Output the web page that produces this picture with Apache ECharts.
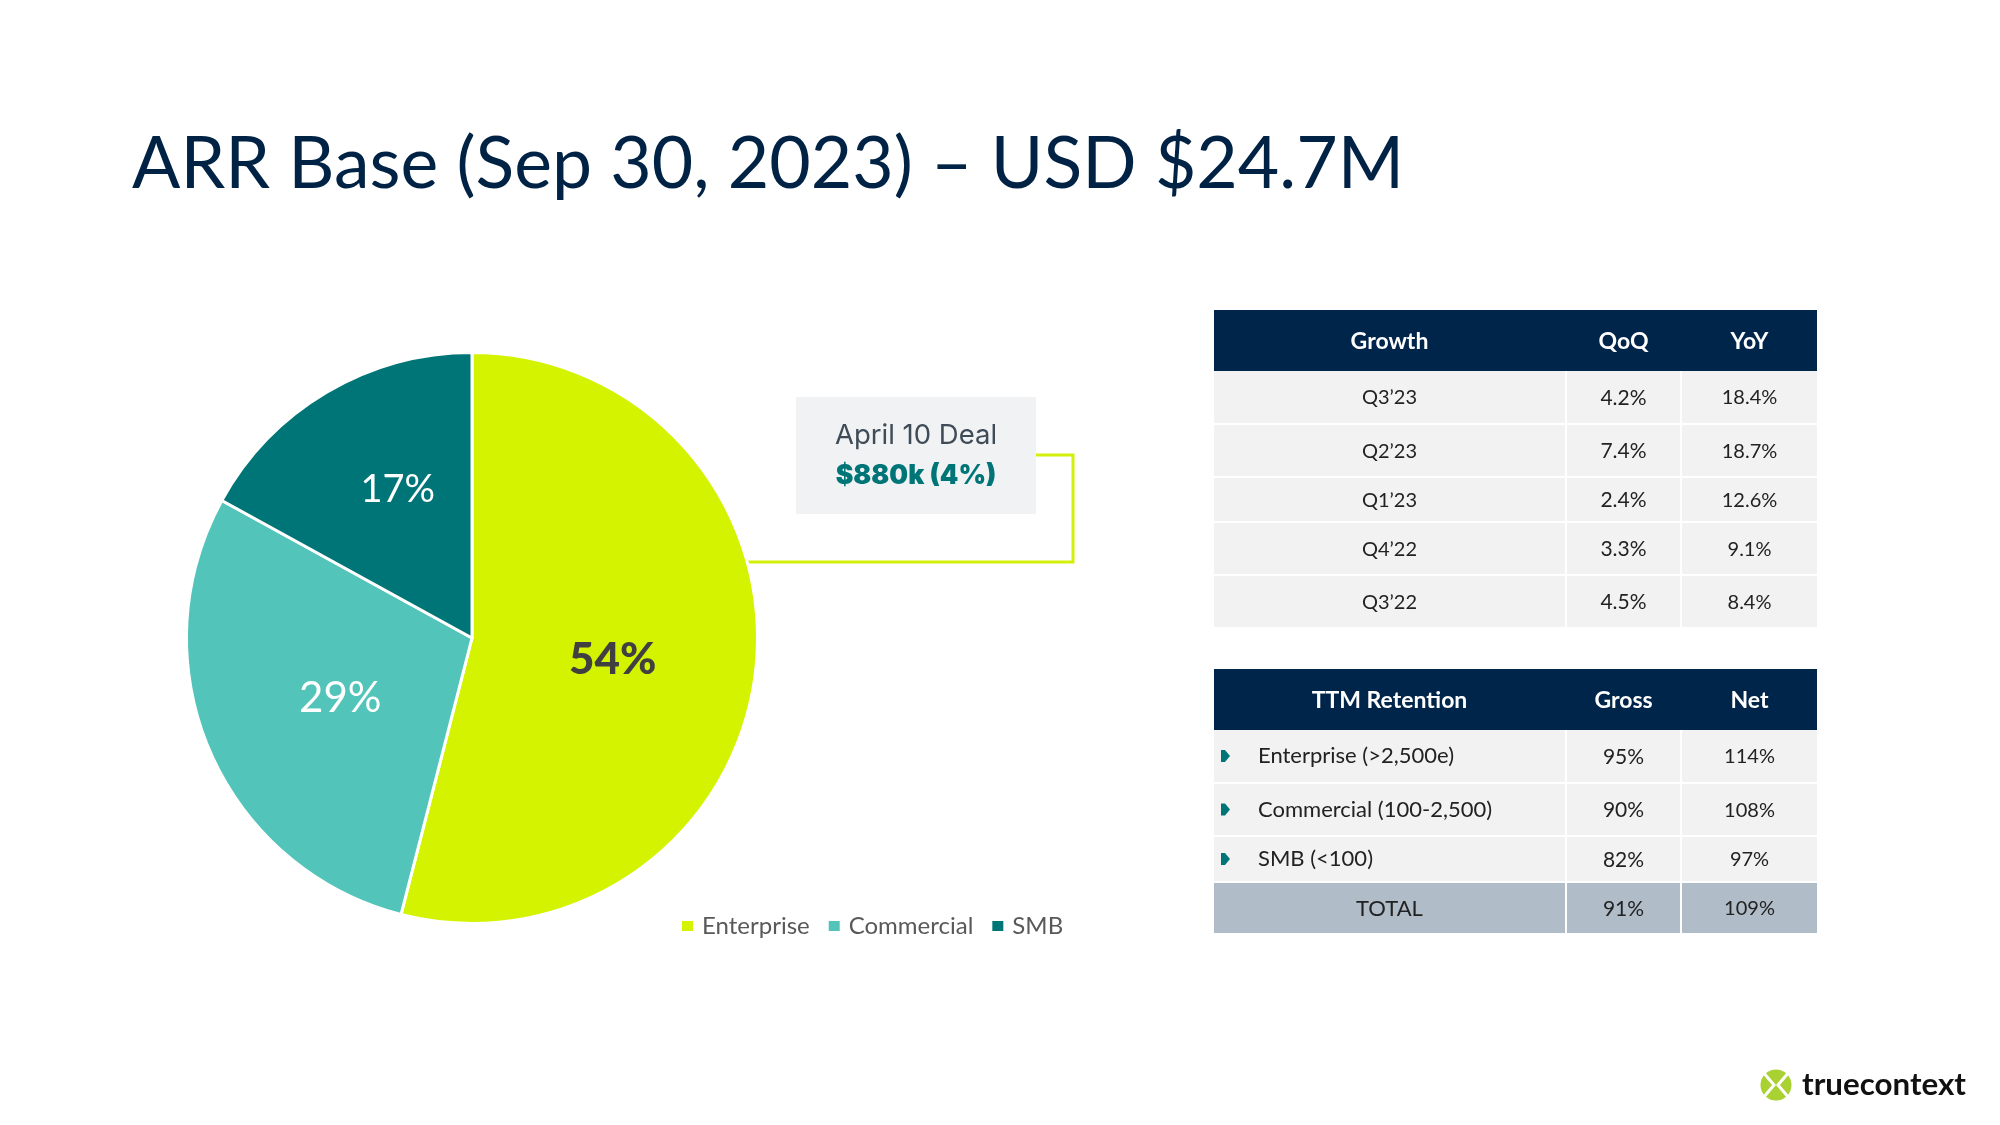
<!DOCTYPE html>
<html lang="en">
<head>
<meta charset="utf-8" />
<style>
    html, body { margin: 0; padding: 0; background: #fff; overflow: hidden; }
    .box { width: 2000px; height: 1125px; }
</style>
</head>
<body>
<div class="box"></div>
<script src="https://cdn.jsdelivr.net/npm/echarts@6/dist/echarts.min.js"></script>
<script>
(function () {
    var myChart = echarts.init(document.querySelector('.box'));

    var font = 'Lato';
    var navy = '#00254a';
    var teal = '#007577';
    var lime = '#d3f300';

    // pie data
    var chartData = [
        { name: 'Enterprise', value: 54, color: lime, labelColor: '#404040', weight: 900, size: 44, dx: -4, dy: 4 },
        { name: 'Commercial', value: 29, color: '#52c4ba', labelColor: '#fff', weight: 'normal', size: 42, dx: 2, dy: 3 },
        { name: 'SMB', value: 17, color: teal, labelColor: '#fff', weight: 'normal', size: 38, dx: 0, dy: -23 }
    ];

    // table columns, left edge / right edge
    var cols = [[1214, 1565], [1567, 1680], [1682, 1817]];
    var colFont = [20, 21, 20];

    var growthTable = {
        head: ['Growth', 'QoQ', 'YoY'],
        headY: [310, 371],
        rows: [
            { y: [371, 423], cells: ['Q3\u201923', '4.2%', '18.4%'] },
            { y: [425, 476], cells: ['Q2\u201923', '7.4%', '18.7%'] },
            { y: [478, 521], cells: ['Q1\u201923', '2.4%', '12.6%'] },
            { y: [523, 574], cells: ['Q4\u201922', '3.3%', '9.1%'] },
            { y: [576, 627], cells: ['Q3\u201922', '4.5%', '8.4%'] }
        ]
    };

    var retentionTable = {
        head: ['TTM Retention', 'Gross', 'Net'],
        headY: [669, 730],
        rows: [
            { y: [730, 782], cells: ['Enterprise (>2,500e)', '95%', '114%'], bullet: true },
            { y: [784, 835], cells: ['Commercial (100-2,500)', '90%', '108%'], bullet: true },
            { y: [837, 881], cells: ['SMB (<100)', '82%', '97%'], bullet: true },
            { y: [883, 933], cells: ['TOTAL', '91%', '109%'], total: true }
        ]
    };

    var graphics = [];

    function rect(x, y, w, h, fill) {
        graphics.push({ type: 'rect', silent: true, shape: { x: x, y: y, width: w, height: h }, style: { fill: fill } });
    }
    function text(str, x, y, size, color, opt) {
        opt = opt || {};
        graphics.push({
            type: 'text', silent: true, x: x, y: y,
            style: {
                text: str, fill: color, font: (opt.weight || 'normal') + ' ' + size + 'px ' + (opt.family || font),
                textAlign: opt.align || 'center', textVerticalAlign: 'middle'
            }
        });
    }

    function drawTable(t) {
        rect(cols[0][0], t.headY[0], cols[2][1] - cols[0][0], t.headY[1] - t.headY[0], navy);
        t.head.forEach(function (h, i) {
            text(h, (cols[i][0] + cols[i][1]) / 2, (t.headY[0] + t.headY[1]) / 2 + 1, 23, '#fff', { weight: 'bold' });
        });
        t.rows.forEach(function (r) {
            var mid = (r.y[0] + r.y[1]) / 2;
            cols.forEach(function (c, i) {
                rect(c[0], r.y[0], c[1] - c[0], r.y[1] - r.y[0], r.total ? '#b0bcc8' : '#f2f2f2');
                if (i === 0 && r.bullet) {
                    text(r.cells[i], 1258, mid, 22, '#222', { align: 'left' });
                } else {
                    text(r.cells[i], (c[0] + c[1]) / 2, mid + 1, r.total && i === 0 ? 22 : colFont[i], '#222');
                }
            });
            if (r.bullet) {
                graphics.push({
                    type: 'polygon', silent: true,
                    shape: { points: [[1221, mid - 6], [1225, mid - 6], [1230, mid], [1225, mid + 6], [1221, mid + 6]] },
                    style: { fill: teal }
                });
            }
        });
    }
    drawTable(growthTable);
    drawTable(retentionTable);

    // callout
    rect(796, 397, 240, 117, '#f1f2f3');
    graphics.push({
        type: 'polyline', silent: true,
        shape: { points: [[1036, 455], [1073, 455], [1073, 562], [746, 562]] },
        style: { stroke: '#d4ef0a', lineWidth: 3, fill: null }
    });
    text('April 10 Deal', 916, 436, 27.5, '#3f4c58', { family: 'Inter' });
    text('$880k (4%)', 916, 476, 26.5, teal, { family: 'Inter', weight: 900 });

    // logo
    graphics.push({ type: 'circle', silent: true, shape: { cx: 1776, cy: 1085, r: 15.5 }, style: { fill: '#a9d132' } });
    [[[1763, 1072], [1774, 1085], [1763, 1098]], [[1789, 1072], [1778, 1085], [1789, 1098]]].forEach(function (p) {
        graphics.push({ type: 'polyline', silent: true, shape: { points: p }, style: { stroke: '#fff', lineWidth: 3, fill: null } });
    });
    text('truecontext', 1802, 1085, 31.3, '#111', { align: 'left', weight: 'bold' });

    var option = {
        animation: false,
        backgroundColor: '#fff',
        title: {
            text: 'ARR Base (Sep 30, 2023) \u2013 USD $24.7M',
            left: 132,
            top: 129,
            padding: 0,
            textStyle: { color: '#002244', fontSize: 71.5, fontWeight: 'normal', fontFamily: font }
        },
        legend: {
            left: 680,
            top: 914,
            padding: 0,
            itemWidth: 13,
            itemHeight: 12,
            itemGap: 17,
            icon: 'rect',
            textStyle: { color: '#595959', fontSize: 24, fontFamily: font, padding: [0, 0, 0, 3] },
            data: chartData.map(function (d) { return d.name; })
        },
        graphic: graphics,
        series: [{
            type: 'pie',
            center: [472, 638],
            radius: [0, 285.5],
            startAngle: 90,
            clockwise: true,
            itemStyle: { borderColor: '#fff', borderWidth: 3 },
            emphasis: { disabled: true },
            label: {
                show: true,
                position: 'inside',
                formatter: '{c}%',
                fontFamily: font
            },
            labelLine: { show: false },
            labelLayout: function (params) {
                var d = chartData[params.dataIndex];
                return { dx: d.dx, dy: d.dy };
            },
            data: chartData.map(function (d) {
                return {
                    name: d.name,
                    value: d.value,
                    itemStyle: { color: d.color },
                    label: { color: d.labelColor, fontWeight: d.weight, fontSize: d.size }
                };
            })
        }]
    };

    myChart.setOption(option);
})();
</script>
</body>
</html>
